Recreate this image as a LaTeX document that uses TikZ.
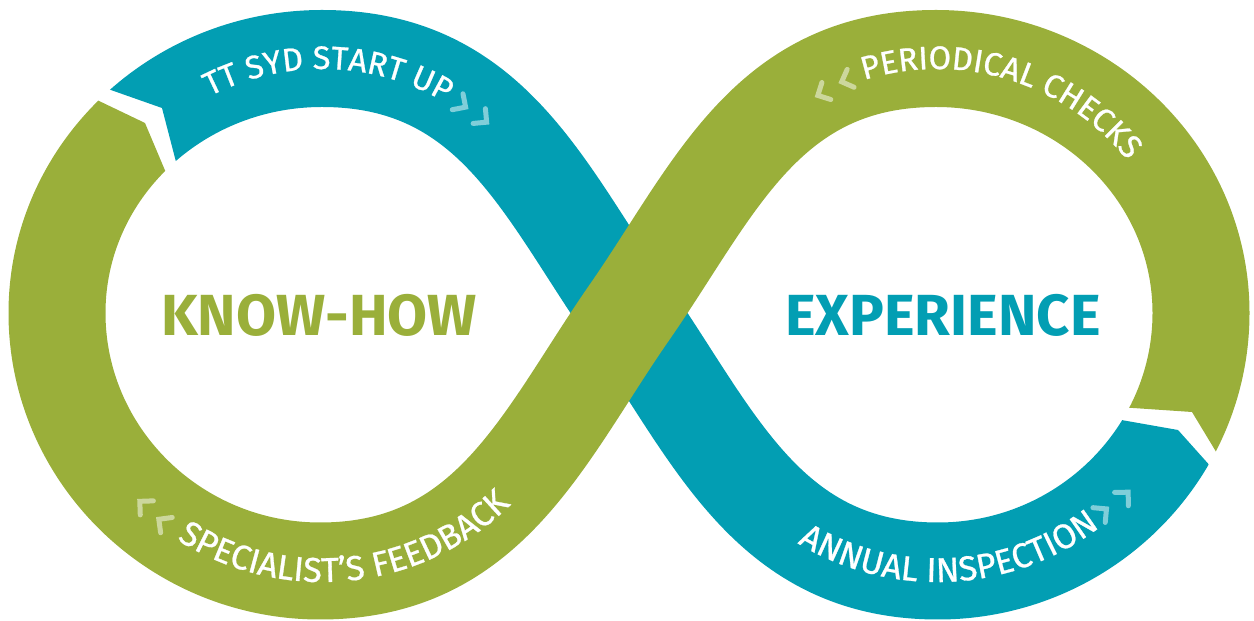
\documentclass[tikz,border=0pt]{standalone}
\usepackage{fontspec}
\setmainfont{Fira Sans}
\newfontfamily\labelfont{Fira Sans}[FakeBold=0.8]
\usetikzlibrary{calc,positioning,decorations.text}

\definecolor{syteal}{HTML}{029EB3}
\definecolor{sygreen}{HTML}{9AAF3A}
\newcommand{\arcfont}{\labelfont\fontsize{32.5}{32.5}\selectfont\color{white}}
\newcommand{\lowarcfont}{\labelfont\fontsize{34.5}{34.5}\selectfont\color{white}}

\tikzset{
  band/.style={line width=97pt, line cap=butt, line join=round},
  arclabel/.style={decorate, decoration={text along path, text align=center, text={|\arcfont|#1}}},
  lowarclabel/.style={decorate, decoration={text along path, text align=center, text={|\lowarcfont|#1}}},
  bigword/.style={font=\fontsize{58}{58}\selectfont\bfseries},
  chevron/.pic={\draw[white, opacity=0.5, line width=5pt, line cap=round, line join=miter] (-4.8,9.6) -- (4.8,0) -- (-4.8,-9.6);}
}

\begin{document}
\begin{tikzpicture}[x=1pt,y=1pt]
\useasboundingbox (0,0) rectangle (1254,621);

% centre line of the loop
\coordinate (C) at (629,308);
\coordinate (TL) at (322,562.5);
\coordinate (L) at (57,308);
\coordinate (BL) at (320,50);
\coordinate (TR) at (936,562.5);
\coordinate (R) at (1201,308);
\coordinate (BR) at (938,50);
\coordinate (OL) at (322,308);
\coordinate (OR) at (937,308);

% teal part, under the crossing
\begin{scope}
  \clip (60,700) -- (75.6,543.4) -- (108,532) -- (162,513) -- (175,463) -- (182.8,433) -- (230,-100)
    -- (1350,-100) -- (1350,100) -- (1232.4,130.2) -- (1212,153) -- (1178,191) -- (1127,200) -- (1096.4,205.4)
    -- (1060,700) -- cycle;
  \draw[band, syteal] (R) .. controls (1201,166) and (1083,50) .. (BR)
    .. controls (768,50) and (714.5,185) .. (C)
    .. controls (543.5,431) and (492,562.5) .. (TL)
    .. controls (176,562.5) and (57,449) .. (L);
\end{scope}

% green part, over the crossing
\begin{scope}
  \clip (-100,720) -- (40,720) -- (68.2,534.8) -- (97,521) -- (145,498) -- (164,453) -- (175.4,426)
    -- (900,720) -- (1400,720) -- (1400,145) -- (1233.6,140.2) -- (1218,166) -- (1192,209) -- (1133,213)
    -- (1097.6,215.4) -- (500,-100) -- (-100,-100) -- cycle;
  \draw[band, sygreen] (TL) .. controls (176,562.5) and (57,449) .. (L)
    .. controls (57,166) and (175,50) .. (BL)
    .. controls (490,50) and (543.5,185) .. (C)
    .. controls (714.5,431) and (766,562.5) .. (TR)
    .. controls (1082,562.5) and (1201,449) .. (R)
    .. controls (1201,166) and (1083,50) .. (BR);
\end{scope}

% labels on the loop
\path[arclabel={TT SYD START UP}] ($(OL)+(148.5:244)$) arc[start angle=148.5, end angle=28.5, radius=244];
\path[arclabel={PERIODICAL CHECKS}] ($(OR)+(133:244)$) arc[start angle=133, end angle=13, radius=244];
\path[lowarclabel={SPECIALIST’S FEEDBACK}] ($(OL)+(216:269)$) arc[start angle=216, end angle=336, radius=269];
\path[lowarclabel={ANNUAL INSPECTION}] ($(OR)+(213:269)$) arc[start angle=213, end angle=333, radius=269];

% chevrons
\pic[rotate=-33.8] at ($(OL)+(56.2:251)$) {chevron};
\pic[rotate=-39.7] at ($(OL)+(50.3:252)$) {chevron};
\pic[rotate=207.6] at ($(OR)+(117.6:248)$) {chevron};
\pic[rotate=201.3] at ($(OR)+(111.3:250)$) {chevron};
\pic[rotate=137] at ($(OL)+(227:262)$) {chevron};
\pic[rotate=142.7] at ($(OL)+(232.7:263)$) {chevron};
\pic[rotate=39.8] at ($(OR)+(-50.2:259)$) {chevron};
\pic[rotate=45.8] at ($(OR)+(-44.2:262)$) {chevron};

% words in the middle
\node[bigword, text=sygreen] (knowhow) at (319,306) {KNOW-HOW};
\node[bigword, text=syteal] (experience) at (943,306) {EXPERIENCE};
\end{tikzpicture}
\end{document}
